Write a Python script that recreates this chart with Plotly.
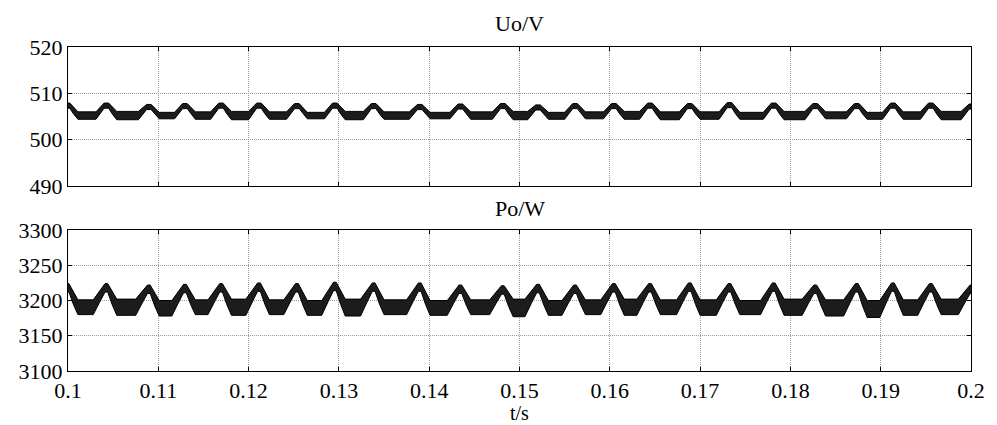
import plotly.graph_objects as go

# ---- data ----
# times of the ripple peaks (s), shared by both traces
t_peaks = [0.1000, 0.1043, 0.1090, 0.1130, 0.1170, 0.1212, 0.1254, 0.1296,
           0.1339, 0.1390, 0.1435, 0.1482, 0.1521, 0.1562, 0.1605, 0.1645,
           0.1689, 0.1733, 0.1782, 0.1828, 0.1874, 0.1914, 0.1956, 0.2001]

# Uo (V): peak top, and the noisy flat band (upper / lower edge) after each peak
uo_peak = [507.9, 507.9, 507.6, 507.8, 507.9, 507.9, 507.8, 507.9,
           507.8, 507.6, 507.7, 507.8, 507.5, 507.8, 507.8, 507.9,
           507.8, 508.0, 507.9, 507.8, 507.8, 507.9, 507.9, 507.7]
uo_flat_hi = [506.0, 506.1, 505.9, 506.0, 506.1, 506.0, 505.9, 506.1,
              506.0, 505.9, 506.0, 506.1, 505.9, 506.0, 506.1, 506.0,
              506.0, 505.9, 506.1, 506.0, 505.9, 506.0, 506.1, 506.0]
uo_flat_lo = [504.4, 504.3, 504.5, 504.4, 504.3, 504.4, 504.5, 504.3,
              504.4, 504.5, 504.4, 504.3, 504.4, 504.5, 504.4, 504.3,
              504.4, 504.4, 504.3, 504.5, 504.4, 504.4, 504.3, 504.4]

# Po (W)
po_peak = [3224, 3224, 3222, 3223, 3224, 3225, 3224, 3226,
           3225, 3225, 3222, 3221, 3223, 3222, 3224, 3224,
           3225, 3224, 3225, 3222, 3224, 3225, 3224, 3222]
po_flat_hi = [3201, 3202, 3200, 3201, 3202, 3201, 3200, 3202,
              3201, 3200, 3201, 3202, 3200, 3201, 3202, 3201,
              3201, 3200, 3202, 3201, 3200, 3201, 3202, 3201]
po_flat_lo = [3180, 3179, 3178, 3180, 3179, 3180, 3179, 3178,
              3180, 3179, 3180, 3177, 3179, 3180, 3179, 3180,
              3179, 3180, 3179, 3178, 3176, 3179, 3180, 3179]

x_tickvals = [0.10, 0.11, 0.12, 0.13, 0.14, 0.15, 0.16, 0.17, 0.18, 0.19, 0.20]
x_ticktext = ["0.1", "0.11", "0.12", "0.13", "0.14", "0.15", "0.16",
              "0.17", "0.18", "0.19", "0.2"]
uo_ticks = [490, 500, 510, 520]
po_ticks = [3100, 3150, 3200, 3250, 3300]

# ripple shape: time offsets of the shape vertices around
# each peak, and the fraction of the climb from flat level to crest at each vertex
UO_OFFS = [-0.0012, -0.0007, -0.0003, 0.0002, 0.0006, 0.0011]
UO_FRAC = [0.0, 0.55, 1.0, 1.0, 0.5, 0.0]
UO_CREST_BAND = 1.1
PO_OFFS = [-0.0015, -0.0008, -0.0002, 0.0001, 0.0006, 0.0011]
PO_FRAC = [0.0, 0.55, 1.0, 1.0, 0.45, 0.0]
PO_CREST_BAND = 12


def envelope(peaks, pk, fhi, flo, offs, frac, band):
    t, hi, lo = [], [], []
    n = len(offs)
    for i, p in enumerate(peaks):
        for k in range(n):
            before = k < n // 2
            base_hi = fhi[i - 1] if (before and i > 0) else fhi[i]
            base_lo = flo[i - 1] if (before and i > 0) else flo[i]
            f = frac[k]
            t.append(p + offs[k])
            hi.append(base_hi + f * (pk[i] - base_hi))
            lo.append(base_lo + f * (pk[i] - band - base_lo))
    return t, hi, lo


fig = go.Figure()

for (pk, fhi, flo, offs, frac, band, xa, ya) in [
    (uo_peak, uo_flat_hi, uo_flat_lo, UO_OFFS, UO_FRAC, UO_CREST_BAND, "x", "y"),
    (po_peak, po_flat_hi, po_flat_lo, PO_OFFS, PO_FRAC, PO_CREST_BAND, "x2", "y2"),
]:
    t, hi, lo = envelope(t_peaks, pk, fhi, flo, offs, frac, band)
    fig.add_trace(go.Scatter(x=t, y=lo, mode="lines", line=dict(color="black", width=1),
                             xaxis=xa, yaxis=ya, showlegend=False, hoverinfo="skip"))
    fig.add_trace(go.Scatter(x=t, y=hi, mode="lines", line=dict(color="black", width=1),
                             fill="tonexty", fillcolor="#1c1c1c",
                             xaxis=xa, yaxis=ya, showlegend=False, hoverinfo="skip"))

axis_common = dict(
    showline=True, linecolor="black", linewidth=1, mirror="allticks",
    ticks="inside", ticklen=4, tickcolor="black", tickwidth=1,
    showgrid=True, gridcolor="#9a9a9a", gridwidth=1, griddash="1px,1px",
    zeroline=False,
)

FONT = "Liberation Serif"

fig.update_layout(
    width=997, height=425,
    margin=dict(l=68, r=17, t=47, b=54),
    paper_bgcolor="white", plot_bgcolor="white",
    font=dict(family=FONT, size=22, color="black"),
    xaxis=dict(domain=[0, 1], anchor="y", range=[0.1, 0.2], tickvals=x_tickvals,
               ticktext=x_ticktext, showticklabels=False, **axis_common),
    yaxis=dict(domain=[0.571, 1], anchor="x", range=[490, 520], tickvals=uo_ticks,
               **axis_common),
    xaxis2=dict(domain=[0, 1], anchor="y2", range=[0.1, 0.2], tickvals=x_tickvals,
                ticktext=x_ticktext, showticklabels=True, **axis_common),
    yaxis2=dict(domain=[0, 0.435], anchor="x2", range=[3100, 3300], tickvals=po_ticks,
                **axis_common),
    annotations=[
        dict(text="Uo/V", xref="paper", yref="paper", x=0.5, y=1.074,
             showarrow=False, xanchor="center", yanchor="middle", borderpad=0),
        dict(text="Po/W", xref="paper", yref="paper", x=0.5, y=0.503,
             showarrow=False, xanchor="center", yanchor="middle", borderpad=0),
        dict(text="t/s", xref="paper", yref="paper", x=0.5, y=-0.1667,
             showarrow=False, xanchor="center", yanchor="bottom", borderpad=0,
             font=dict(size=20)),
    ],
)

fig.write_html("out.html")
